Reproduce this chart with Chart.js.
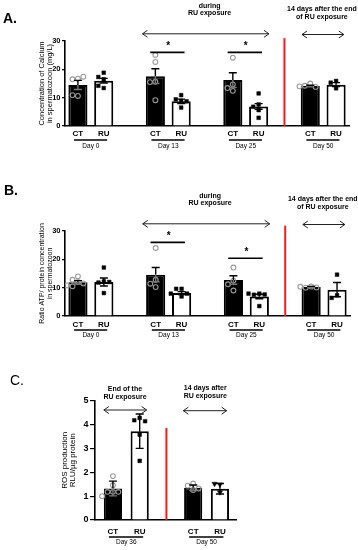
<!DOCTYPE html>
<html><head><meta charset="utf-8">
<script src="https://cdn.jsdelivr.net/npm/chart.js"></script>
<style>
html,body{margin:0;padding:0;background:#fff;}
body{width:358px;height:550px;position:relative;overflow:hidden;}
canvas{position:absolute;left:0;}
</style></head><body>
<canvas id="ca" width="358" height="180" style="top:0"></canvas>
<canvas id="cb" width="358" height="180" style="top:180px"></canvas>
<canvas id="cc" width="358" height="190" style="top:360px"></canvas>
<script>
// ---------------- DATA ----------------
const barLabels = ['CT', 'RU'];
const daysAB = ['Day 0', 'Day 13', 'Day 25', 'Day 50'];
const daysC = ['Day 36', 'Day 50'];

// Panel A – Calcium (mg/L)
const calcCTMean = [14.5, 17.6, 16.2, 14.1];
const calcCTSem  = [1.6, 2.6, 2.6, 0.3];
const calcRUMean = [16.0, 8.7, 6.9, 14.6];
const calcRUSem  = [0.8, 0.8, 1.0, 0.7];
const calcCTPts = [[16.7,16.5,17.4,10.6,10.9],[25.1,22.6,15.6,15.5,9.1],[24.1,14.7,13.4,12.4],[15.0,14.2,13.8,14.0]];
const calcRUPts = [[18.8,17.3,16.5,13.4,14.2],[10.9,9.4,8.9,8.7,6.5],[11.5,7.6,6.8,5.6,2.9],[15.9,15.3,13.3]];
const calcTicks = [0, 10, 20, 30];
const calcSig = [{a:3, b:4, y:26}, {a:6, b:7, y:26}];

// Panel B – ATP / protein ratio
const atpCTMean = [11.9, 14.6, 12.7, 10.2];
const atpCTSem  = [0.6, 2.5, 1.5, 0.2];
const atpRUMean = [12.0, 8.1, 6.9, 9.3];
const atpRUSem  = [1.4, 0.5, 0.8, 2.5];
const atpCTPts = [[14.0,12.8,12.0,11.5,10.5,10.8],[24.0,12.8,11.4,10.2],[17.1,12.5,11.2,9.0],[10.4,10.0,10.1,10.3]];
const atpRUPts = [[17.1,12.2,11.8,12.0,8.1],[9.6,9.6,7.9,6.9,7.9],[7.9,7.5,7.6,7.9,3.5],[14.6,7.3,6.4]];
const atpTicks = [0, 10, 20, 30];
const atpSig = [{a:3, b:4, y:26}, {a:6, b:7, y:20.4}];

// Panel C – ROS production (RLU/µg protein)
const rosCTMean = [1.32, 1.35];
const rosCTSem  = [0.31, 0.12];
const rosRUMean = [3.72, 1.31];
const rosRUSem  = [0.72, 0.22];
const rosCTPts = [[1.84,1.46,1.18,1.18,1.18,1.0],[1.53,1.44,1.32,1.26]];
const rosRUPts = [[4.28,4.18,4.14,3.58,2.48],[1.49,1.52,1.16]];
const rosTicks = [0, 1, 2, 3, 4, 5];

// ---------------- DRAWING ----------------
const FF = "'Liberation Sans', Arial, Helvetica, sans-serif";

function swarm(values, center, xPx, yPx) {
  const placed = [];
  const step = 5.4 / xPx;
  const cands = [0, -1, 1, -2, 2, -3, 3];
  values.forEach(v => {
    let off = 0;
    for (const c of cands) {
      const x = center + c * step;
      if (placed.every(p => Math.hypot((p.x - x) * xPx, (p.y - v) * yPx) >= 5.2)) { off = c * step; break; }
    }
    placed.push({x: center + off, y: v});
  });
  return placed;
}

function arrow(ctx, x1, x2, y) {
  ctx.save();
  ctx.strokeStyle = '#222'; ctx.lineWidth = 1;
  ctx.beginPath(); ctx.moveTo(x1, y); ctx.lineTo(x2, y); ctx.stroke();
  ctx.beginPath();
  ctx.moveTo(x1 + 5, y - 3.5); ctx.lineTo(x1, y); ctx.lineTo(x1 + 5, y + 3.5);
  ctx.moveTo(x2 - 5, y - 3.5); ctx.lineTo(x2, y); ctx.lineTo(x2 - 5, y + 3.5);
  ctx.stroke();
  ctx.restore();
}

function buildPanel(p) {
  const W = 358, H = p.height, A = p.area;
  const xPx = (A.right - A.left) / (p.xMax - p.xMin);
  const yPx = (A.bottom - A.top) / p.yMax;
  const bars = [], fills = [], tickPos = [], tickText = {};
  const datasets = [];
  p.slots.forEach((s, i) => {
    bars.push({x: s, y: p.ctMean[i]}); fills.push('#000');
    bars.push({x: s + 1, y: p.ruMean[i]}); fills.push('#fff');
    tickPos.push(s, s + 1);
    tickText[s] = barLabels[0]; tickText[s + 1] = barLabels[1];
    datasets.push({type: 'scatter', order: 1, data: swarm(p.ctPts[i], s, xPx, yPx),
      pointStyle: 'circle', pointRadius: 2.4, borderColor: '#9a9a9a', borderWidth: 1.1,
      backgroundColor: 'rgba(0,0,0,0)'});
    const tri = p.ruStyle && p.ruStyle[i] === 'triangle';
    datasets.push({type: 'scatter', order: 1, data: swarm(p.ruPts[i], s + 1, xPx, yPx),
      pointStyle: tri ? 'triangle' : 'rect', rotation: tri ? 180 : 0,
      pointRadius: tri ? 3 : 2.6, borderColor: '#000', borderWidth: 0.5, backgroundColor: '#000'});
  });
  datasets.unshift({type: 'bar', order: 2, data: bars, backgroundColor: fills,
    borderColor: '#000', borderWidth: 2, barPercentage: p.barPct, categoryPercentage: 1});

  const deco = {
    id: 'deco',
    afterDatasetsDraw(chart) {
      const ctx = chart.ctx, xs = chart.scales.x, ys = chart.scales.y;
      const X = v => xs.getPixelForValue(v), Y = v => ys.getPixelForValue(v);
      ctx.save();
      // error bars
      p.slots.forEach((s, i) => {
        [[s, p.ctMean[i], p.ctSem[i], true], [s + 1, p.ruMean[i], p.ruSem[i], false]].forEach(([sx, m, e, dark]) => {
          const x = X(sx), y0 = Y(m), yu = Y(m + e), yd = Y(m - e);
          ctx.lineWidth = 1.4;
          ctx.strokeStyle = '#000';
          ctx.beginPath(); ctx.moveTo(x, y0); ctx.lineTo(x, yu); ctx.moveTo(x - 4, yu); ctx.lineTo(x + 4, yu); ctx.stroke();
          ctx.strokeStyle = dark ? '#777' : '#000';
          ctx.beginPath(); ctx.moveTo(x, y0); ctx.lineTo(x, yd); ctx.moveTo(x - 4, yd); ctx.lineTo(x + 4, yd); ctx.stroke();
        });
      });
      // red separator
      ctx.strokeStyle = '#ee1c1c'; ctx.lineWidth = 2;
      ctx.beginPath(); ctx.moveTo(X(p.redSlot), Y(p.redTop)); ctx.lineTo(X(p.redSlot), A.bottom); ctx.stroke();
      // significance
      ctx.strokeStyle = '#000'; ctx.fillStyle = '#000'; ctx.lineWidth = 1.6;
      (p.sig || []).forEach(sg => {
        const y = Y(sg.y);
        ctx.beginPath(); ctx.moveTo(X(sg.a - 0.2), y); ctx.lineTo(X(sg.b + 0.13), y); ctx.stroke();
        ctx.font = 'bold 10px ' + FF; ctx.textAlign = 'center'; ctx.textBaseline = 'middle';
        ctx.fillText('*', X((sg.a + sg.b) / 2), y - 6);
      });
      // group underlines and day labels
      p.slots.forEach((s, i) => {
        ctx.strokeStyle = '#000'; ctx.lineWidth = 1.5;
        const y = A.bottom + p.ulOff;
        ctx.beginPath(); ctx.moveTo(X(s - 0.15), y); ctx.lineTo(X(s + 1.13), y); ctx.stroke();
        ctx.font = '6.5px ' + FF; ctx.textAlign = 'center'; ctx.textBaseline = 'middle';
        ctx.fillText(p.days[i], X(s + 0.5), A.bottom + p.dayOff);
      });
      // annotations
      ctx.font = 'bold 7px ' + FF; ctx.textAlign = 'center'; ctx.textBaseline = 'middle'; ctx.fillStyle = '#000';
      p.notes.forEach(n => {
        n.lines.forEach((t, k) => ctx.fillText(t, X(n.x), A.top + n.y[k]));
        arrow(ctx, X(n.a1), X(n.a2), A.top + n.ay);
      });
      // panel letter
      ctx.font = p.letterFont + ' ' + FF; ctx.textAlign = 'left'; ctx.textBaseline = 'alphabetic';
      ctx.fillText(p.letter, p.letterPos[0], p.letterPos[1]);
      ctx.restore();
    }
  };

  return new Chart(document.getElementById(p.id), {
    type: 'bar',
    data: {datasets},
    options: {
      responsive: false, animation: false, devicePixelRatio: 1,
      layout: {padding: {left: 0, top: A.top, right: W - A.right, bottom: 0}},
      plugins: {legend: {display: false}, tooltip: {enabled: false}},
      scales: {
        x: {
          type: 'linear', min: p.xMin, max: p.xMax, offset: false,
          afterBuildTicks: sc => { sc.ticks = tickPos.map(v => ({value: v})); },
          afterFit: sc => { sc.height = H - A.bottom; },
          grid: {display: false, drawTicks: false, tickLength: 0},
          border: {display: true, color: '#000', width: 1.6},
          ticks: {autoSkip: false, maxRotation: 0, padding: p.xTickPad, color: '#000',
            font: {family: FF, size: 8, weight: 'bold'}, callback: v => tickText[v] || ''}
        },
        y: {
          type: 'linear', min: 0, max: p.yMax,
          afterBuildTicks: sc => { sc.ticks = p.yTicks.map(v => ({value: v})); },
          afterFit: sc => { sc.width = A.left; },
          grid: {display: true, drawOnChartArea: false, drawTicks: true, tickLength: p.yTickLen, color: '#000', lineWidth: 1.2},
          border: {display: true, color: '#000', width: 1.6},
          ticks: {padding: 1.5, color: '#000', font: {family: FF, size: p.yTickSize, weight: 'bold'}},
          title: {display: true, text: p.yTitle, color: '#000', padding: {top: p.titlePad, bottom: 0},
            font: {family: FF, size: p.titleSize, lineHeight: p.titleLH}}
        }
      }
    },
    plugins: [deco]
  });
}

const notesAB = [
  {lines: ['during', 'RU exposure'], x: 5.1, y: [-35, -27.5], a1: 2.5, a2: 7.4, ay: -7.2},
  {lines: ['14 days after the end', 'of RU exposure'], x: 9.45, y: [-31.7, -23.7], a1: 8.68, a2: 10.3, ay: -6.5}
];

buildPanel({
  id: 'ca', height: 180, area: {left: 65, right: 349, top: 41, bottom: 126},
  xMin: -0.5, xMax: 10.5, slots: [0, 3, 6, 9], redSlot: 8, redTop: 31, barPct: 0.74,
  yMax: 30, yTicks: calcTicks, yTickSize: 7.5, yTickLen: 3,
  ctMean: calcCTMean, ctSem: calcCTSem, ruMean: calcRUMean, ruSem: calcRUSem,
  ctPts: calcCTPts, ruPts: calcRUPts, sig: calcSig, days: daysAB,
  yTitle: ['Concentration of Calcium', 'in spermatozoon (mg/L)'], titlePad: 37.5, titleSize: 7.5, titleLH: 1.1,
  xTickPad: 3, ulOff: 14, dayOff: 20, notes: notesAB,
  letter: 'A.', letterFont: 'bold 14px', letterPos: [3, 22.5]
});

buildPanel({
  id: 'cb', height: 180, area: {left: 65, right: 350, top: 51, bottom: 136},
  xMin: -0.5, xMax: 10.5, slots: [0, 3, 6, 9], redSlot: 8, redTop: 31.9, barPct: 0.74,
  yMax: 30, yTicks: atpTicks, yTickSize: 7.5, yTickLen: 3,
  ctMean: atpCTMean, ctSem: atpCTSem, ruMean: atpRUMean, ruSem: atpRUSem,
  ctPts: atpCTPts, ruPts: atpRUPts, sig: atpSig, days: daysAB,
  yTitle: ['Ratio ATP/ protein concentration', 'in spermatozoon'], titlePad: 37.5, titleSize: 7, titleLH: 1.2,
  xTickPad: 4, ulOff: 14, dayOff: 19.6, notes: notesAB,
  letter: 'B.', letterFont: 'bold 14px', letterPos: [4, 14.5]
});

buildPanel({
  id: 'cc', height: 190, area: {left: 95, right: 236, top: 40.7, bottom: 160},
  xMin: -0.67, xMax: 4.6, slots: [0, 3], redSlot: 2, redTop: 3.86, barPct: 0.68,
  yMax: 5, yTicks: rosTicks, yTickSize: 9, yTickLen: 5,
  ctMean: rosCTMean, ctSem: rosCTSem, ruMean: rosRUMean, ruSem: rosRUSem,
  ctPts: rosCTPts, ruPts: rosRUPts, ruStyle: ['rect', 'triangle'], sig: [], days: daysC,
  yTitle: ['ROS production', 'RLU/\u00b5g protein'], titlePad: 61, titleSize: 8, titleLH: 1.0,
  xTickPad: 7, ulOff: 17, dayOff: 22.7,
  notes: [
    {lines: ['End of the', 'RU exposure'], x: 0.45, y: [-11.7, -4], a1: -0.34, a2: 1.26, ay: 9.3},
    {lines: ['14 days after', 'RU exposure'], x: 3.45, y: [-12.4, -4.7], a1: 2.63, a2: 4.25, ay: 10}
  ],
  letter: 'C.', letterFont: '14px', letterPos: [10, 25]
});
</script>
</body></html>
